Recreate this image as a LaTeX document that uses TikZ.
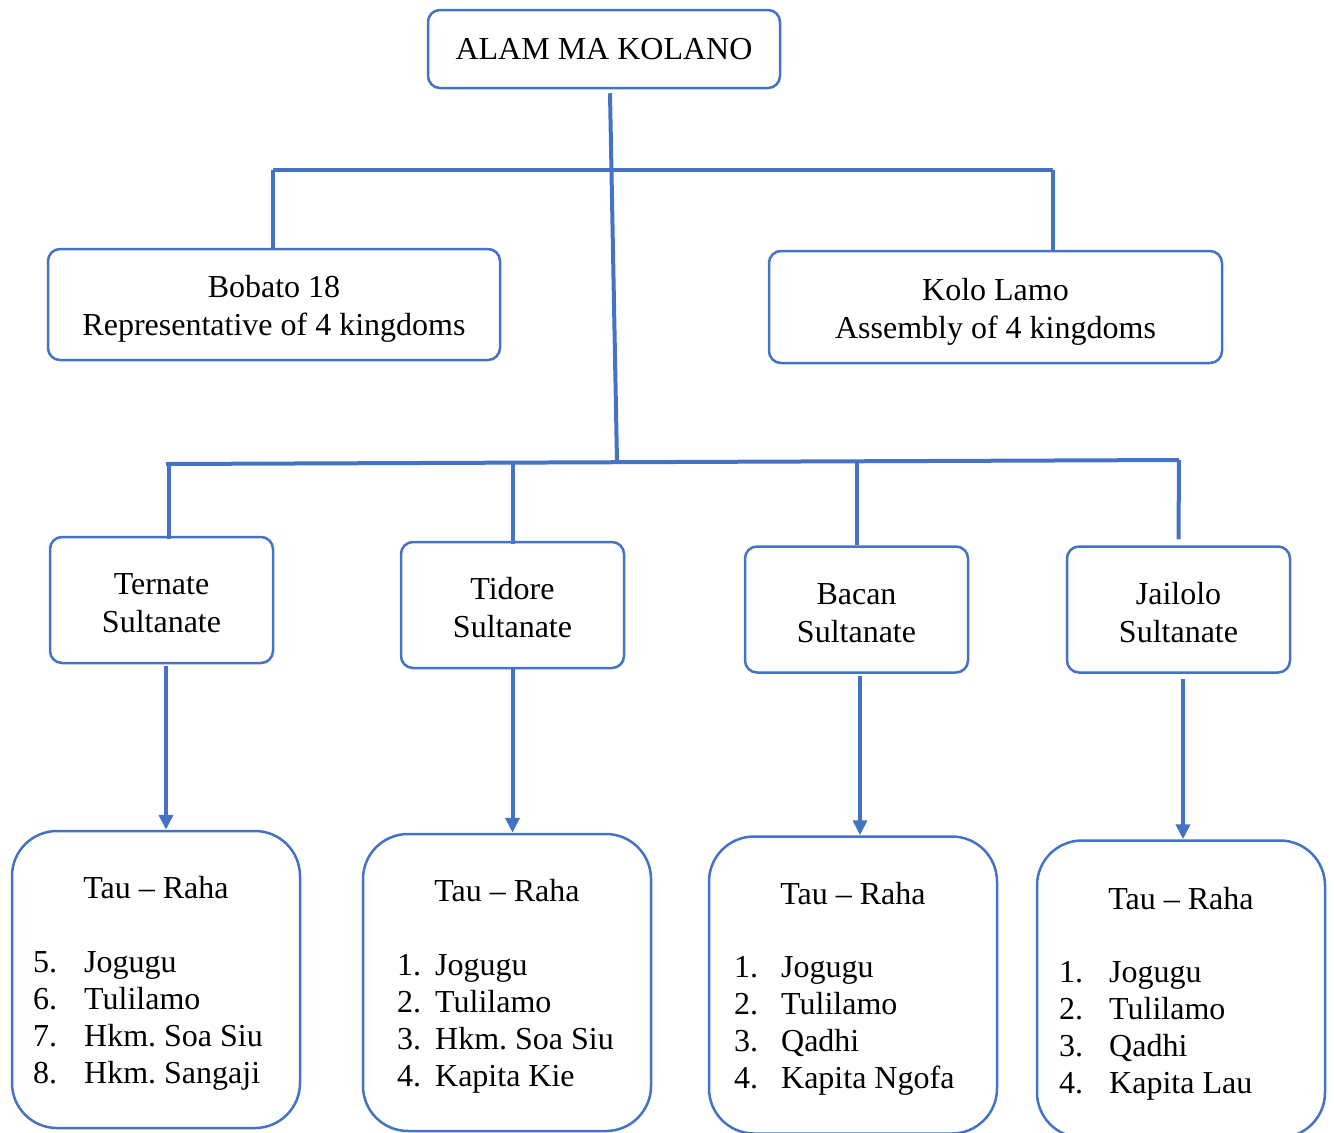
\documentclass[tikz,border=0pt]{standalone}
\usepackage{fontspec}
\setmainfont{Liberation Serif}
\usepackage{xcolor}
\usepackage{tikz}
\usetikzlibrary{arrows.meta}
\definecolor{wordblue}{HTML}{4472C4}
\frenchspacing

\begin{document}
\begin{tikzpicture}[x=1pt, y=-1pt, >={Triangle[length=15pt,width=14pt]},
    box/.style={draw=wordblue, line width=2.5pt, rounded corners=12pt, align=center, inner sep=0pt, font=\fontsize{32}{38}\selectfont},
    listbox/.style={draw=wordblue, line width=2.5pt, rounded corners=45pt, minimum width=288pt, minimum height=297pt, inner sep=0pt},
    txt/.style={inner sep=0pt, font=\fontsize{32}{37}\selectfont},
    link/.style={draw=wordblue, line width=4pt}]

    \useasboundingbox (0,0) rectangle (1334,1133);

    % Top and council boxes
    \node[box, minimum width=352pt, minimum height=78pt] (alam) at (604,49) {ALAM MA KOLANO};
    \node[box, minimum width=452pt, minimum height=111pt] (bobato) at (274,304.5) {\rule{0pt}{31pt}Bobato 18\\Representative of 4 kingdoms};
    \node[box, minimum width=453pt, minimum height=112pt] (kolo) at (995.5,307) {\rule{0pt}{31pt}Kolo Lamo\\Assembly of 4 kingdoms};

    % Sultanates
    \node[box, minimum width=223pt, minimum height=126pt] (ternate) at (161.5,600) {\rule{0pt}{28pt}Ternate\\Sultanate};
    \node[box, minimum width=223pt, minimum height=126pt] (tidore) at (512.5,605) {\rule{0pt}{28pt}Tidore\\Sultanate};
    \node[box, minimum width=223pt, minimum height=126pt] (bacan) at (856.5,609.5) {\rule{0pt}{28pt}Bacan\\Sultanate};
    \node[box, minimum width=223pt, minimum height=126pt] (jailolo) at (1178.5,609.5) {\rule{0pt}{28pt}Jailolo\\Sultanate};

    % Tau - Raha boxes
    \node[listbox] (ternatelist) at (156,979.5) {};
    \node[listbox] (tidorelist) at (507,982.5) {};
    \node[listbox] (bacanlist) at (853,985) {};
    \node[listbox] (jailololist) at (1181,989) {};

    \node[txt] (ternatetitle) at (156,888) {Tau – Raha};
    \node[txt] (tidoretitle) at (507,891) {Tau – Raha};
    \node[txt] (bacantitle) at (853,894) {Tau – Raha};
    \node[txt] (jailolotitle) at (1181,899) {Tau – Raha};

    \node[txt, anchor=west] (ternateitems) at (33,1020.5)
        {\begin{tabular}{@{}l@{\hspace{27pt}}l@{}}5. & Jogugu\\6. & Tulilamo\\7. & Hkm. Soa Siu\\8. & Hkm. Sangaji\end{tabular}};
    \node[txt, anchor=west] (tidoreitems) at (397,1023.5)
        {\begin{tabular}{@{}l@{\hspace{14pt}}l@{}}1. & Jogugu\\2. & Tulilamo\\3. & Hkm. Soa Siu\\4. & Kapita Kie\end{tabular}};
    \node[txt, anchor=west] (bacanitems) at (734,1026)
        {\begin{tabular}{@{}l@{\hspace{23pt}}l@{}}1. & Jogugu\\2. & Tulilamo\\3. & Qadhi\\4. & Kapita Ngofa\end{tabular}};
    \node[txt, anchor=west] (jailoloitems) at (1059,1030.5)
        {\begin{tabular}{@{}l@{\hspace{26pt}}l@{}}1. & Jogugu\\2. & Tulilamo\\3. & Qadhi\\4. & Kapita Lau\end{tabular}};

    % Junction points of the connector bars
    \coordinate (upperL) at (273,170);
    \coordinate (upperR) at (1053,170);
    \coordinate (lowerL) at (166,464);
    \coordinate (lowerR) at (1179,460);
    \coordinate (trunkend) at (617,462);

    % Connectors
    \draw[link] ([xshift=6pt,yshift=-4pt]alam.south) -- (trunkend);
    \draw[link] (upperL) -- (upperR);
    \draw[link] (upperL) -- (bobato.north -| upperL);
    \draw[link] (upperR) -- (kolo.north -| upperR);
    \draw[link] (lowerL) -- (lowerR);
    \draw[link] ([xshift=3pt]lowerL) -- ([xshift=7.5pt,yshift=-3pt]ternate.north);
    \draw[link] (tidore.north |- lowerL) -- ([yshift=-3pt]tidore.north);
    \draw[link] (bacan.north |- trunkend) -- (bacan.north);
    \draw[link] (lowerR) -- ([yshift=6pt]jailolo.north);

    % Arrows down to the Tau - Raha boxes
    \draw[link, ->] ([xshift=4.5pt,yshift=-2pt]ternate.south) -- ([xshift=4.5pt]ternate.south |- ternatelist.north);
    \draw[link, ->] (tidore.south) -- (tidore.south |- tidorelist.north);
    \draw[link, ->] ([xshift=3.5pt,yshift=-2pt]bacan.south) -- ([xshift=3.5pt]bacan.south |- bacanlist.north);
    \draw[link, ->] ([xshift=4.5pt,yshift=-5pt]jailolo.south) -- ([xshift=4.5pt]jailolo.south |- jailololist.north);

\end{tikzpicture}
\end{document}
